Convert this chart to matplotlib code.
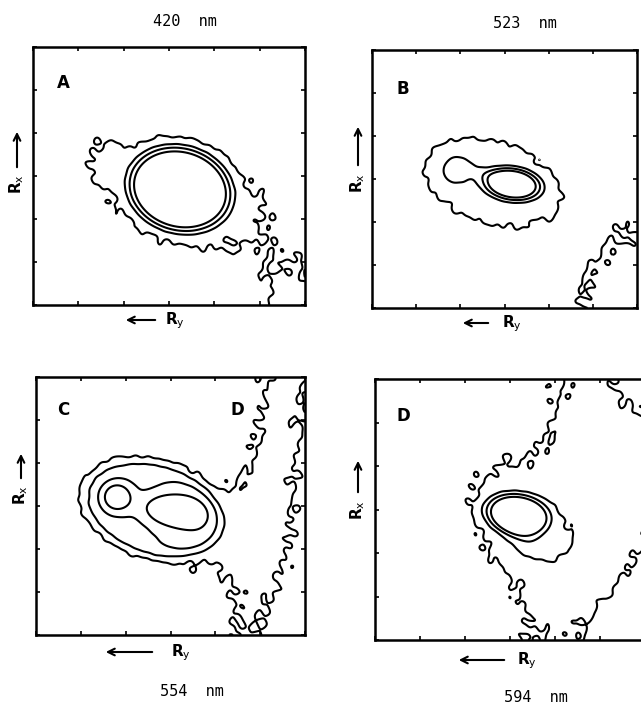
import numpy as np
import matplotlib
matplotlib.use("Agg")
import matplotlib.pyplot as plt
from matplotlib.patches import FancyArrowPatch

plt.rcParams["mathtext.fontset"] = "dejavusans"

W, H = 641, 712

# ---- data -------------------------------------------------------------
panel_letters = ["A", "B", "C", "D"]
wavelengths = ["420", "523", "554", "594"]
contour_levels = [0.15, 0.40, 0.60, 0.80]

# intensity components: (centre x, centre y, sigma major, sigma minor,
#                        major-axis angle in degrees, amplitude, flatness)
comp_A = [
    (0.54, 0.45, 0.170, 0.145, -20, 1.00, 3),
    (0.56, 0.42, 0.290, 0.160, -22, 0.26, 1),
    (0.26, 0.57, 0.050, 0.050, 0, 0.08, 1),
    (0.97, 0.02, 0.120, 0.120, 0, 0.18, 1),
]
comp_B = [
    (0.53, 0.48, 0.092, 0.052, -8, 0.85, 2),
    (0.31, 0.54, 0.060, 0.060, 0, 0.25, 1),
    (0.41, 0.525, 0.050, 0.020, -10, 0.10, 1),
    (0.46, 0.485, 0.230, 0.150, -15, 0.26, 2),
    (1.02, -0.02, 0.220, 0.320, 0, 0.25, 1),
]
comp_C = [
    (0.30, 0.535, 0.040, 0.040, 0, 0.55, 1),
    (0.505, 0.485, 0.070, 0.038, -5, 0.53, 1),
    (0.427, 0.49, 0.253, 0.174, -20, 0.50, 5),
    (0.62, 0.43, 0.140, 0.120, -45, 0.28, 1),
    (0.87, 0.50, 1.200, 0.090, 83, 0.22, 1),
    (1.00, 0.00, 0.120, 0.120, 0, -0.15, 1),
]
comp_D = [
    (0.524, 0.483, 0.100, 0.064, -10, 0.85, 2),
    (0.55, 0.40, 0.070, 0.050, -45, 0.25, 1),
    (0.56, 0.45, 0.200, 0.140, -45, 0.26, 1),
    (0.77, 0.50, 1.000, 0.150, 84, 0.24, 1),
    (1.00, 0.62, 0.300, 0.100, 90, 0.12, 1),
    (1.00, -0.02, 0.150, 0.150, 0, -0.25, 1),
    (1.00, 1.00, 0.080, 0.080, 0, -0.20, 1),
]
components = [comp_A, comp_B, comp_C, comp_D]

# fine-grain roughness wave terms
grain_fx = [5, -8, 11, 3, -13, 17, 21, -7, 24, -19, 2, 9]
grain_fy = [8, 4, -6, 13, 10, -3, 12, -18, -9, 6, 22, 17]
grain_phase = [0.3, 1.7, 4.1, 2.2, 5.0, 0.9, 3.3, 2.8, 1.1, 4.6, 5.7, 0.5]
grain_amp = [0.12] * 12
grain_level = [0.06, 0.05, 0.09, 0.09]
grain_shift = [(0.00, 0.00), (0.31, 0.17), (0.53, 0.71), (0.19, 0.43)]

# ---- layout (pixel boxes: left, top, right, bottom) -------------------
boxes = [(33, 47, 305, 305), (372, 50, 637, 308),
         (36, 377, 305, 635), (375, 379, 645, 640)]
title_pos = [(185, 22), (525, 24), (192, 691), (536, 698)]
letter_pos = [(63, 83), (403, 89), (63, 410), (403, 416)]
rx_text = [(17, 184), (358, 183), (21, 495), (358, 510)]
rx_arrow = [((17, 170), (17, 129)), ((358, 168), (358, 124)),
            ((21, 481), (21, 451)), ((358, 495), (358, 458))]
ry_text = [(175, 321), (512, 324), (181, 653), (527, 661)]
ry_arrow = [((158, 320), (123, 320)), ((491, 323), (460, 323)),
            ((155, 652), (103, 652)), ((507, 660), (456, 660))]


def fx(px):
    return px / W


def fy(py):
    return 1 - py / H


def build_field(comps, level, shift, n=400):
    u = np.linspace(0, 1, n)
    U, V = np.meshgrid(u, u)
    Z = np.zeros_like(U)
    for cx, cy, sa, sb, ang, amp, p in comps:
        t = np.radians(ang)
        du, dv = U - cx, V - cy
        a = du * np.cos(t) + dv * np.sin(t)
        b = -du * np.sin(t) + dv * np.cos(t)
        r2 = (a / sa) ** 2 + (b / sb) ** 2
        Z += amp * np.exp(-0.5 * r2 ** p)
    tex = np.zeros_like(U)
    for kx, ky, ph, am in zip(grain_fx, grain_fy, grain_phase, grain_amp):
        tex += am * np.sin(2 * np.pi * (kx * (U + shift[0]) + ky * (V + shift[1])) + ph)
    # roughness is strongest around the lowest contour level
    q = np.clip(Z, 0, None) / contour_levels[0]
    weight = q ** 2 * np.exp(2 * (1 - q))
    return U, V, Z + level * weight * tex


fig = plt.figure(figsize=(W / 100, H / 100), dpi=100)
fig.patch.set_facecolor("white")

for i in range(4):
    x0, y0, x1, y1 = boxes[i]
    ax = fig.add_axes([fx(x0), fy(y1), (x1 - x0) / W, (y1 - y0) / H])
    U, V, Z = build_field(components[i], grain_level[i], grain_shift[i])
    ax.contour(U, V, Z, levels=contour_levels, colors="black", linewidths=1.5)
    ax.set_xlim(0, 1)
    ax.set_ylim(0, 1)
    ticks = np.linspace(0, 1, 7)
    ax.set_xticks(ticks)
    ax.set_yticks(ticks)
    ax.set_xticklabels([])
    ax.set_yticklabels([])
    ax.tick_params(direction="in", length=3, width=1.2, top=True, right=True)
    for s in ax.spines.values():
        s.set_linewidth(1.8)

    tx, ty = title_pos[i]
    fig.text(fx(tx), fy(ty), wavelengths[i] + "  nm", ha="center", va="center",
             family="DejaVu Sans Mono", fontsize=11)
    lx, ly = letter_pos[i]
    fig.text(fx(lx), fy(ly), panel_letters[i], ha="center", va="center",
             fontsize=12, fontweight="bold")
    rx, ry = rx_text[i]
    fig.text(fx(rx), fy(ry), r"R$_\mathrm{x}$", rotation=90, ha="center",
             va="center", fontsize=11, fontweight="bold")
    (ax0, ay0), (ax1, ay1) = rx_arrow[i]
    fig.add_artist(FancyArrowPatch((fx(ax0), fy(ay0)), (fx(ax1), fy(ay1)),
                                   transform=fig.transFigure, arrowstyle="->",
                                   mutation_scale=12, lw=1.5, color="black"))
    qx, qy = ry_text[i]
    fig.text(fx(qx), fy(qy), r"R$_\mathrm{y}$", ha="center", va="center",
             fontsize=11, fontweight="bold")
    (bx0, by0), (bx1, by1) = ry_arrow[i]
    fig.add_artist(FancyArrowPatch((fx(bx0), fy(by0)), (fx(bx1), fy(by1)),
                                   transform=fig.transFigure, arrowstyle="->",
                                   mutation_scale=12, lw=1.5, color="black"))

# second feature marker inside panel C
fig.text(fx(237), fy(410), "D", ha="center", va="center",
         fontsize=12, fontweight="bold")

fig.savefig("out.png", dpi=100)
